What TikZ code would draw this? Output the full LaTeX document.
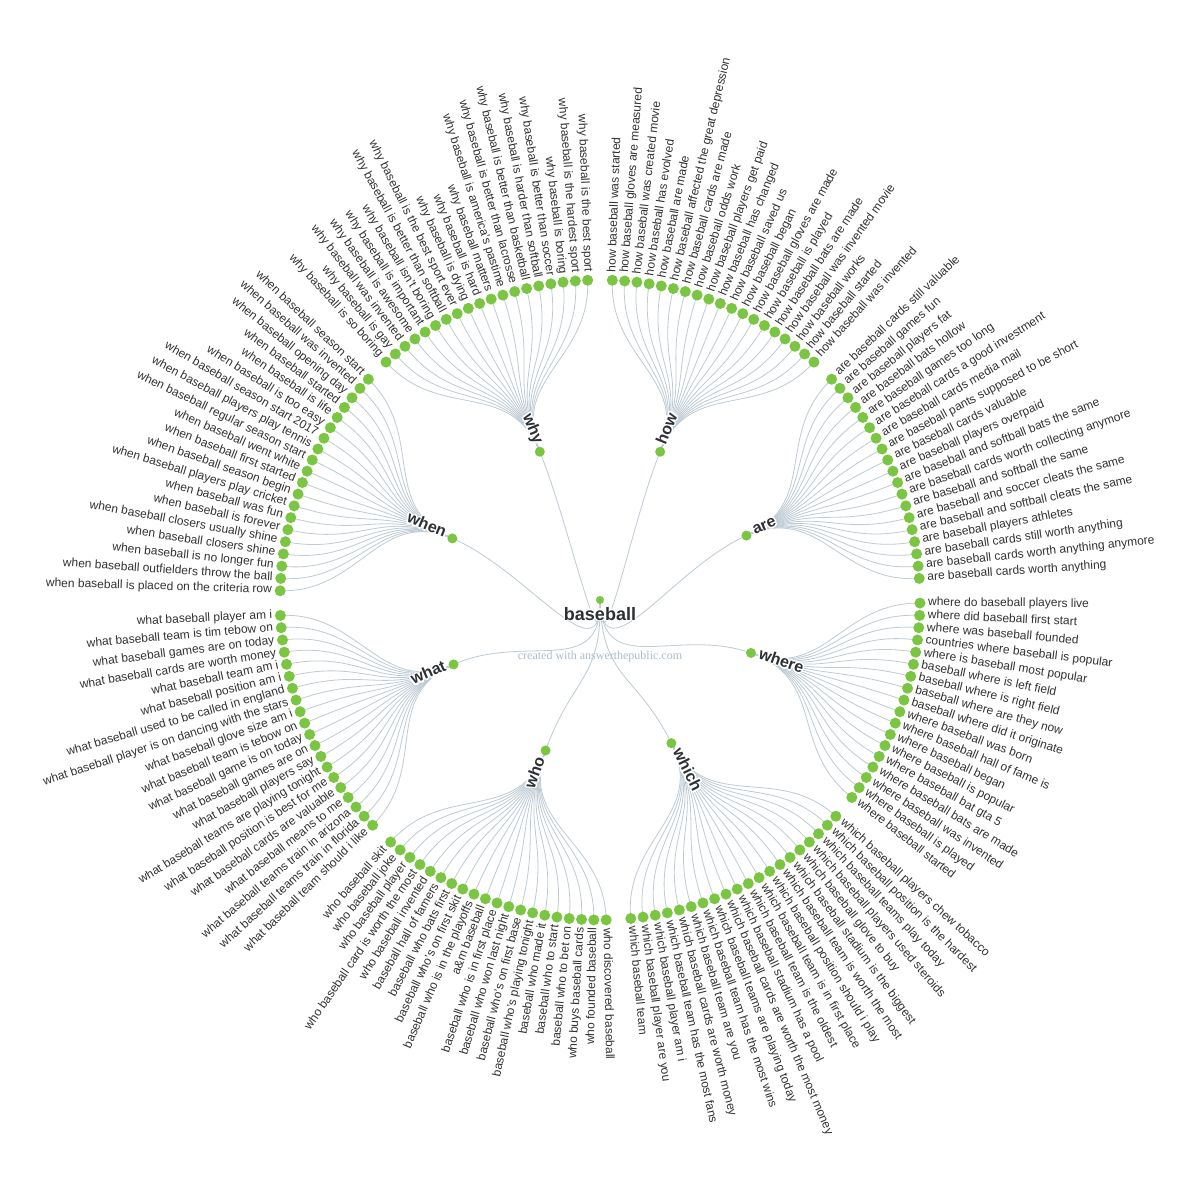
\documentclass[tikz,border=0pt]{standalone}
\usepackage{fontspec}
\setmainfont{Liberation Sans}
\newfontfamily\creditfont{Liberation Serif}
\definecolor{dotgreen}{RGB}{122,197,66}
\definecolor{linkcol}{RGB}{190,203,212}
\definecolor{leafcol}{RGB}{50,50,50}
\definecolor{labelcol}{RGB}{45,48,52}
\definecolor{creditcol}{RGB}{172,189,203}

\def\Lhow{how baseball was started,how baseball gloves are measured,how baseball was created movie,how baseball has evolved,how baseball are made,how baseball affected the great depression,how baseball cards are made,how baseball odds work,how baseball players get paid,how baseball has changed,how baseball saved us,how baseball began,how baseball gloves are made,how baseball is played,how baseball bats are made,how baseball was invented movie,how baseball works,how baseball started,how baseball was invented}
\def\Lare{are baseball cards still valuable,are baseball games fun,are baseball players fat,are baseball bats hollow,are baseball games too long,are baseball cards a good investment,are baseball cards media mail,are baseball pants supposed to be short,are baseball cards valuable,are baseball players overpaid,are baseball and softball bats the same,are baseball cards worth collecting anymore,are baseball and softball the same,are baseball and soccer cleats the same,are baseball and softball cleats the same,are baseball players athletes,are baseball cards still worth anything,are baseball cards worth anything anymore,are baseball cards worth anything}
\def\Lwhere{where do baseball players live,where did baseball first start,where was baseball founded,countries where baseball is popular,where is baseball most popular,baseball where is left field,baseball where is right field,baseball where are they now,baseball where did it originate,where baseball was born,where baseball hall of fame is,where baseball began,where baseball is popular,where baseball bat gta 5,where baseball bats are made,where baseball was invented,where baseball is played,where baseball started}
\def\Lwhich{which baseball players chew tobacco,which baseball position is the hardest,which baseball teams play today,which baseball players used steroids,which baseball glove to buy,which baseball stadium is the biggest,which baseball team is worth the most,which baseball position should i play,which baseball team is in first place,which baseball team is the oldest,which baseball stadium has a pool,which baseball cards are worth the most money,which baseball teams are playing today,which baseball team has the most wins,which baseball team are you,which baseball cards are worth money,which baseball team has the most fans,which baseball player am i,which baseball player are you,which baseball team}
\def\Lwho{who discovered baseball,who founded baseball,who buys baseball cards,baseball who to bet on,baseball who to start,baseball who made it,baseball who's playing tonight,baseball who's on first base,baseball who won last night,baseball who is in first place,a\&m baseball,baseball who is in the playoffs,baseball who's on first skit,baseball who bats first,baseball hall of famers,who baseball invented,who baseball card is worth the most,who baseball player,who baseball joke,who baseball skit}
\def\Lwhat{what baseball team should i like,what baseball teams train in florida,what baseball teams train in arizona,what baseball means to me,what baseball cards are valuable,what baseball position is best for me,what baseball teams are playing tonight,what baseball players say,what baseball games are on,what baseball game is on today,what baseball team is tebow on,what baseball glove size am i,what baseball player is on dancing with the stars,what baseball used to be called in england,what baseball position am i,what baseball team am i,what baseball cards are worth money,what baseball games are on today,what baseball team is tim tebow on,what baseball player am i}
\def\Lwhen{when baseball is placed on the criteria row,when baseball outfielders throw the ball,when baseball is no longer fun,when baseball closers shine,when baseball closers usually shine,when baseball is forever,when baseball was fun,when baseball players play cricket,when baseball season begin,when baseball first started,when baseball went white,when baseball regular season start,when baseball players play tennis,when baseball season start 2017,when baseball is too easy,when baseball is life,when baseball started,when baseball opening day,when baseball was invented,when baseball season start}
\def\Lwhy{why baseball is so boring,why baseball is gay,why baseball was invented,why baseball is awesome,why baseball is important,why baseball isn't boring,why baseball is better than softball,why baseball is the best sport ever,why baseball is dying,why baseball is hard,why baseball matters,why baseball is america's pastime,why baseball is better than lacrosse,why baseball is better than basketball,why baseball is harder than softball,why baseball is better than soccer,why baseball is boring,why baseball is the hardest sport,why baseball is the best sport}

\pgfmathsetmacro\U{360/163}

% links of one group: #1 name, #2 first unit, #3 count, #4 list
\newcommand\linkpass[4]{%
  \pgfmathsetmacro\bang{90-(#2+(#3-1)/2)*\U}%
  \coordinate (b-#1) at (\bang:160);
  \draw[link] (root) .. controls (-88.48:80) and (\bang:80) .. (b-#1);
  \foreach \txt [count=\idx from 0] in #4 {%
    \pgfmathsetmacro\lang{90-(#2+\idx)*\U}%
    \coordinate (l-#1-\idx) at (\lang:320);
    \draw[link] (b-#1) .. controls (\bang:240) and (\lang:240) .. (l-#1-\idx);
  }%
}
% label: #1 compass angle, #2 radius, #3 text, #4 style, #5 name
\newcommand\placelabel[5]{%
  \ifdim #1pt<180pt
    \def\hrot{90-#1}\def\hanc{mid west}%
  \else
    \def\hrot{270-#1}\def\hanc{mid east}%
  \fi
  \node[#4, rotate=\hrot, anchor=\hanc] (#5) at (90-#1:#2) {#3};%
}
\newcommand\halolabel[5]{%
  \ifdim #1pt<180pt
    \def\hrot{90-#1}\def\hanc{mid west}%
  \else
    \def\hrot{270-#1}\def\hanc{mid east}%
  \fi
  \foreach \hx/\hy [count=\hc] in {1.7/0,-1.7/0,0/1.7,0/-1.7,1.2/1.2,1.2/-1.2,-1.2/1.2,-1.2/-1.2}{%
    \node[#4, text=white, rotate=\hrot, anchor=\hanc] (#5-halo\hc) at ([shift={(\hx,\hy)}]90-#1:#2) {#3};}
  \node[#4, rotate=\hrot, anchor=\hanc] (#5) at (90-#1:#2) {#3};%
}
\newcommand\nodepass[4]{%
  \pgfmathsetmacro\bcomp{(#2+(#3-1)/2)*\U}%
  \node[branchdot] (bd-#1) at (b-#1) {};
  \halolabel{\bcomp}{168}{#1}{branchtext}{bl-#1}
  \foreach \txt [count=\idx from 0] in #4 {%
    \pgfmathsetmacro\lcomp{(#2+\idx)*\U}%
    \node[leafdot] (ld-#1-\idx) at (l-#1-\idx) {};
    \placelabel{\lcomp}{328}{\txt}{leaftext}{lt-#1-\idx}
  }%
}

\begin{document}
\begin{tikzpicture}[x=1pt,y=1pt,
  link/.style={draw=linkcol, line width=0.8pt},
  leafdot/.style={circle, fill=dotgreen, inner sep=0pt, minimum size=11pt},
  branchdot/.style={circle, fill=dotgreen, inner sep=0pt, minimum size=10pt},
  rootdot/.style={circle, fill=dotgreen, inner sep=0pt, minimum size=8pt},
  leaftext/.style={text=leafcol, font=\fontsize{12}{14}\selectfont, inner sep=0pt},
  branchtext/.style={text=labelcol, font=\fontsize{16}{18}\selectfont\bfseries, inner sep=0pt},
  roottext/.style={text=labelcol, font=\fontsize{18}{20}\selectfont\bfseries, inner sep=0pt, anchor=base},
  credittext/.style={text=creditcol, font=\creditfont\fontsize{12}{14}\selectfont, anchor=base, inner sep=0pt},
]
\useasboundingbox (-600,-600) rectangle (600,600);
\fill[white] (-600,-600) rectangle (600,600);
\coordinate (root) at (0,0);

\linkpass{how}{1}{19}{\Lhow}
\linkpass{are}{21}{19}{\Lare}
\linkpass{where}{41}{18}{\Lwhere}
\linkpass{which}{60}{20}{\Lwhich}
\linkpass{who}{81}{20}{\Lwho}
\linkpass{what}{102}{20}{\Lwhat}
\linkpass{when}{123}{20}{\Lwhen}
\linkpass{why}{144}{19}{\Lwhy}

\node[credittext] (credit) at (0,-59) {created with answerthepublic.com};

\nodepass{how}{1}{19}{\Lhow}
\nodepass{are}{21}{19}{\Lare}
\nodepass{where}{41}{18}{\Lwhere}
\nodepass{which}{60}{20}{\Lwhich}
\nodepass{who}{81}{20}{\Lwho}
\nodepass{what}{102}{20}{\Lwhat}
\nodepass{when}{123}{20}{\Lwhen}
\nodepass{why}{144}{19}{\Lwhy}

\node[rootdot] (rootdot) at (root) {};
\foreach \hx/\hy [count=\hc] in {1.5/0,-1.5/0,0/1.5,0/-1.5}{%
  \node[roottext, text=white] (rootlabel-halo\hc) at (\hx,-20+\hy) {baseball};}
\node[roottext] (rootlabel) at (0,-20) {baseball};
\end{tikzpicture}
\end{document}
